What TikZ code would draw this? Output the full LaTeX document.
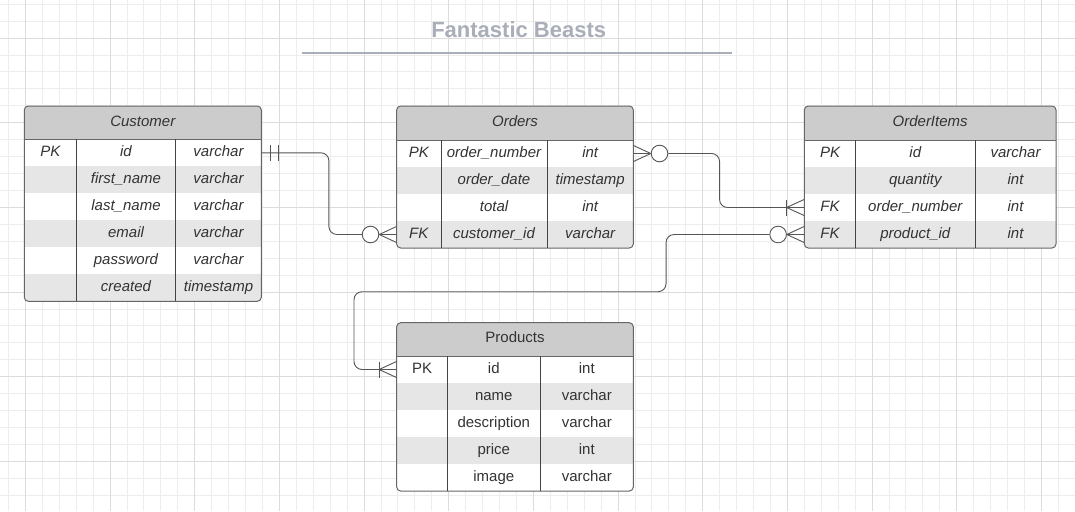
\documentclass[tikz,border=0pt]{standalone}
\usepackage{fontspec}
\setmainfont{Liberation Sans}
\usetikzlibrary{calc}
\definecolor{gridminor}{HTML}{EDEDED}
\definecolor{gridmajor}{HTML}{DCDCDC}
\definecolor{hdr}{HTML}{CCCCCC}
\definecolor{rowgray}{HTML}{E6E6E6}
\definecolor{edgecol}{HTML}{666666}
\definecolor{colcol}{HTML}{444444}
\definecolor{txt}{HTML}{333333}
\definecolor{ttl}{HTML}{A9AEB8}
\definecolor{conn}{HTML}{555555}
\tikzset{
  cell/.style={inner sep=0pt, text=txt, text height=11pt, text depth=4pt, font=\fontsize{15}{18}\selectfont\itshape},
  cellup/.style={inner sep=0pt, text=txt, text height=11pt, text depth=4pt, font=\fontsize{15}{18}\selectfont},
  rowbox/.style={inner sep=0pt, minimum height=27pt, draw=none},
  outline/.style={draw=edgecol, line width=1pt, rounded corners=4pt},
  hline/.style={draw=edgecol, line width=1pt},
  colline/.style={draw=colcol, line width=1pt},
  link/.style={draw=conn, line width=0.9pt, rounded corners=8pt},
  crowline/.style={draw=conn, line width=0.9pt},
  zcirc/.style={circle, draw=conn, line width=0.9pt, fill=white, minimum size=16.6pt, inner sep=0pt},
  titletext/.style={inner sep=0pt, text=ttl, font=\fontsize{22}{26}\selectfont\bfseries},
}
\begin{document}
\begin{tikzpicture}[x=1pt,y=-1pt]
\useasboundingbox (0,0) rectangle (1075,511);
\fill[white] (0,0) rectangle (1075,511);
% grid
\foreach \i in {0,...,63} \draw[gridminor, line width=0.8pt] ({8.4+16.933*\i},0) -- ({8.4+16.933*\i},511);
\foreach \j in {0,...,30} \draw[gridminor, line width=0.8pt] (0,{4.14+16.933*\j}) -- (1075,{4.14+16.933*\j});
\foreach \i in {0,...,12} \draw[gridmajor, line width=0.9pt] ({25.33+84.667*\i},0) -- ({25.33+84.667*\i},511);
\foreach \j in {0,...,5} \draw[gridmajor, line width=0.9pt] (0,{38+84.667*\j}) -- (1075,{38+84.667*\j});

% title
\node[titletext] (title) at (518.7,30) {Fantastic Beasts};
\coordinate (tl) at (302,53.5);
\coordinate (tr) at (731.7,53.5);
\draw[ttl, line width=2pt] (tl) -- (tr);

% ---------- Customer ----------
\begin{scope}
\clip[rounded corners=4pt] (24.3,106) rectangle (261.3,301.3);
\fill[hdr] (24.3,106) rectangle (261.3,139.3);
\foreach \a/\b/\c [count=\i] in {PK/id/varchar,/first\_name/varchar,/last\_name/varchar,/email/varchar,/password/varchar,/created/timestamp}{
  \pgfmathsetmacro\cy{139.3+27*\i-13.5}
  \ifodd\i\def\rc{white}\else\def\rc{rowgray}\fi
  \node[rowbox, fill=\rc, minimum width=237pt] (cust\i) at (142.8,\cy) {};
  \node[cell] (cust-\i-a) at (50.3,\cy) {\a};
  \node[cell] (cust-\i-b) at (126,\cy) {\b};
  \node[cell] (cust-\i-c) at (218.5,\cy) {\c};
}
\end{scope}
\node[cell] (custh) at (142.8,122.65) {Customer};
\draw[outline] (24.3,106) rectangle (261.3,301.3);
\draw[hline] (24.3,139.3) -- (261.3,139.3);
\draw[colline] (76.3,139.3) -- (76.3,301.3);
\draw[colline] (175.7,139.3) -- (175.7,301.3);

% ---------- Orders ----------
\begin{scope}
\clip[rounded corners=4pt] (396.7,106) rectangle (633.3,248);
\fill[hdr] (396.7,106) rectangle (633.3,140);
\foreach \a/\b/\c [count=\i] in {PK/order\_number/int,/order\_date/timestamp,/total/int,FK/customer\_id/varchar}{
  \pgfmathsetmacro\cy{140+27*\i-13.5}
  \ifodd\i\def\rc{white}\else\def\rc{rowgray}\fi
  \node[rowbox, fill=\rc, minimum width=236.6pt] (ord\i) at (515,\cy) {};
  \node[cell] (ord-\i-a) at (418.8,\cy) {\a};
  \node[cell] (ord-\i-b) at (494,\cy) {\b};
  \node[cell] (ord-\i-c) at (590.2,\cy) {\c};
}
\end{scope}
\node[cell] (ordh) at (515,123) {Orders};
\draw[outline] (396.7,106) rectangle (633.3,248);
\draw[hline] (396.7,140) -- (633.3,140);
\draw[colline] (441,140) -- (441,248);
\draw[colline] (547,140) -- (547,248);

% ---------- OrderItems ----------
\begin{scope}
\clip[rounded corners=4pt] (804.3,106) rectangle (1056,248);
\fill[hdr] (804.3,106) rectangle (1056,140);
\foreach \a/\b/\c [count=\i] in {PK/id/varchar,/quantity/int,FK/order\_number/int,FK/product\_id/int}{
  \pgfmathsetmacro\cy{140+27*\i-13.5}
  \ifodd\i\def\rc{white}\else\def\rc{rowgray}\fi
  \node[rowbox, fill=\rc, minimum width=251.7pt] (oi\i) at (930.15,\cy) {};
  \node[cell] (oi-\i-a) at (830,\cy) {\a};
  \node[cell] (oi-\i-b) at (915.3,\cy) {\b};
  \node[cell] (oi-\i-c) at (1015.5,\cy) {\c};
}
\end{scope}
\node[cell] (oih) at (930.15,123) {OrderItems};
\draw[outline] (804.3,106) rectangle (1056,248);
\draw[hline] (804.3,140) -- (1056,140);
\draw[colline] (855.7,140) -- (855.7,248);
\draw[colline] (975,140) -- (975,248);

% ---------- Products ----------
\begin{scope}
\clip[rounded corners=4pt] (396.7,322.7) rectangle (633.3,491);
\fill[hdr] (396.7,322.7) rectangle (633.3,356);
\foreach \a/\b/\c [count=\i] in {PK/id/int,/name/varchar,/description/varchar,/price/int,/image/varchar}{
  \pgfmathsetmacro\cy{356+27*\i-13.5}
  \ifodd\i\def\rc{white}\else\def\rc{rowgray}\fi
  \node[rowbox, fill=\rc, minimum width=236.6pt] (prod\i) at (515,\cy) {};
  \node[cellup] (prod-\i-a) at (422,\cy) {\a};
  \node[cellup] (prod-\i-b) at (493.8,\cy) {\b};
  \node[cellup] (prod-\i-c) at (586.8,\cy) {\c};
}
\end{scope}
\node[cellup] (prodh) at (515,339.35) {Products};
\draw[outline] (396.7,322.7) rectangle (633.3,491);
\draw[hline] (396.7,356) -- (633.3,356);
\draw[colline] (447.3,356) -- (447.3,491);
\draw[colline] (540.3,356) -- (540.3,491);

% ---------- Connector 1: Customer.id -> Orders.customer_id ----------
\node[zcirc] (c1o) at ($(ord4.west)+(-26,0)$) {};
\draw[link] (cust1.east) -- ++(67.4,0) |- (c1o.west);
\draw[crowline] (c1o.east) -- ($(ord4.west)+(0,-8)$)
                (c1o.east) -- (ord4.west)
                (c1o.east) -- ($(ord4.west)+(0,8)$);
\draw[crowline] ($(cust1.east)+(8.7,-8)$) -- ($(cust1.east)+(8.7,8)$);
\draw[crowline] ($(cust1.east)+(17.4,-8)$) -- ($(cust1.east)+(17.4,8)$);

% ---------- Connector 2: Orders.order_number -> OrderItems.order_number ----------
\node[zcirc] (c2o) at ($(ord1.east)+(26,0)$) {};
\draw[crowline] (c2o.west) -- ($(ord1.east)+(0,-8)$)
                (c2o.west) -- (ord1.east)
                (c2o.west) -- ($(ord1.east)+(0,8)$);
\coordinate (a2) at ($(oi3.west)+(-17.6,0)$);
\draw[link] (c2o.east) -- ++(51.3,0) |- (oi3.west);
\draw[crowline] (a2) -- ($(oi3.west)+(0,-8)$)
                (a2) -- ($(oi3.west)+(0,8)$);
\draw[crowline] ($(a2)+(0,-8)$) -- ($(a2)+(0,8)$);

% ---------- Connector 3: OrderItems.product_id -> Products.id ----------
\node[zcirc] (c3o) at ($(oi4.west)+(-26,0)$) {};
\draw[crowline] (c3o.east) -- ($(oi4.west)+(0,-8)$)
                (c3o.east) -- (oi4.west)
                (c3o.east) -- ($(oi4.west)+(0,8)$);
\coordinate (bend3) at (354,291.7);
\draw[link] (c3o.west) -- ++(-103.3,0) |- (bend3) |- (prod1.west);
\coordinate (a3) at ($(prod1.west)+(-17.4,0)$);
\draw[crowline] (a3) -- ($(prod1.west)+(0,-8)$)
                (a3) -- ($(prod1.west)+(0,8)$);
\draw[crowline] ($(a3)+(0,-8)$) -- ($(a3)+(0,8)$);
\end{tikzpicture}
\end{document}
